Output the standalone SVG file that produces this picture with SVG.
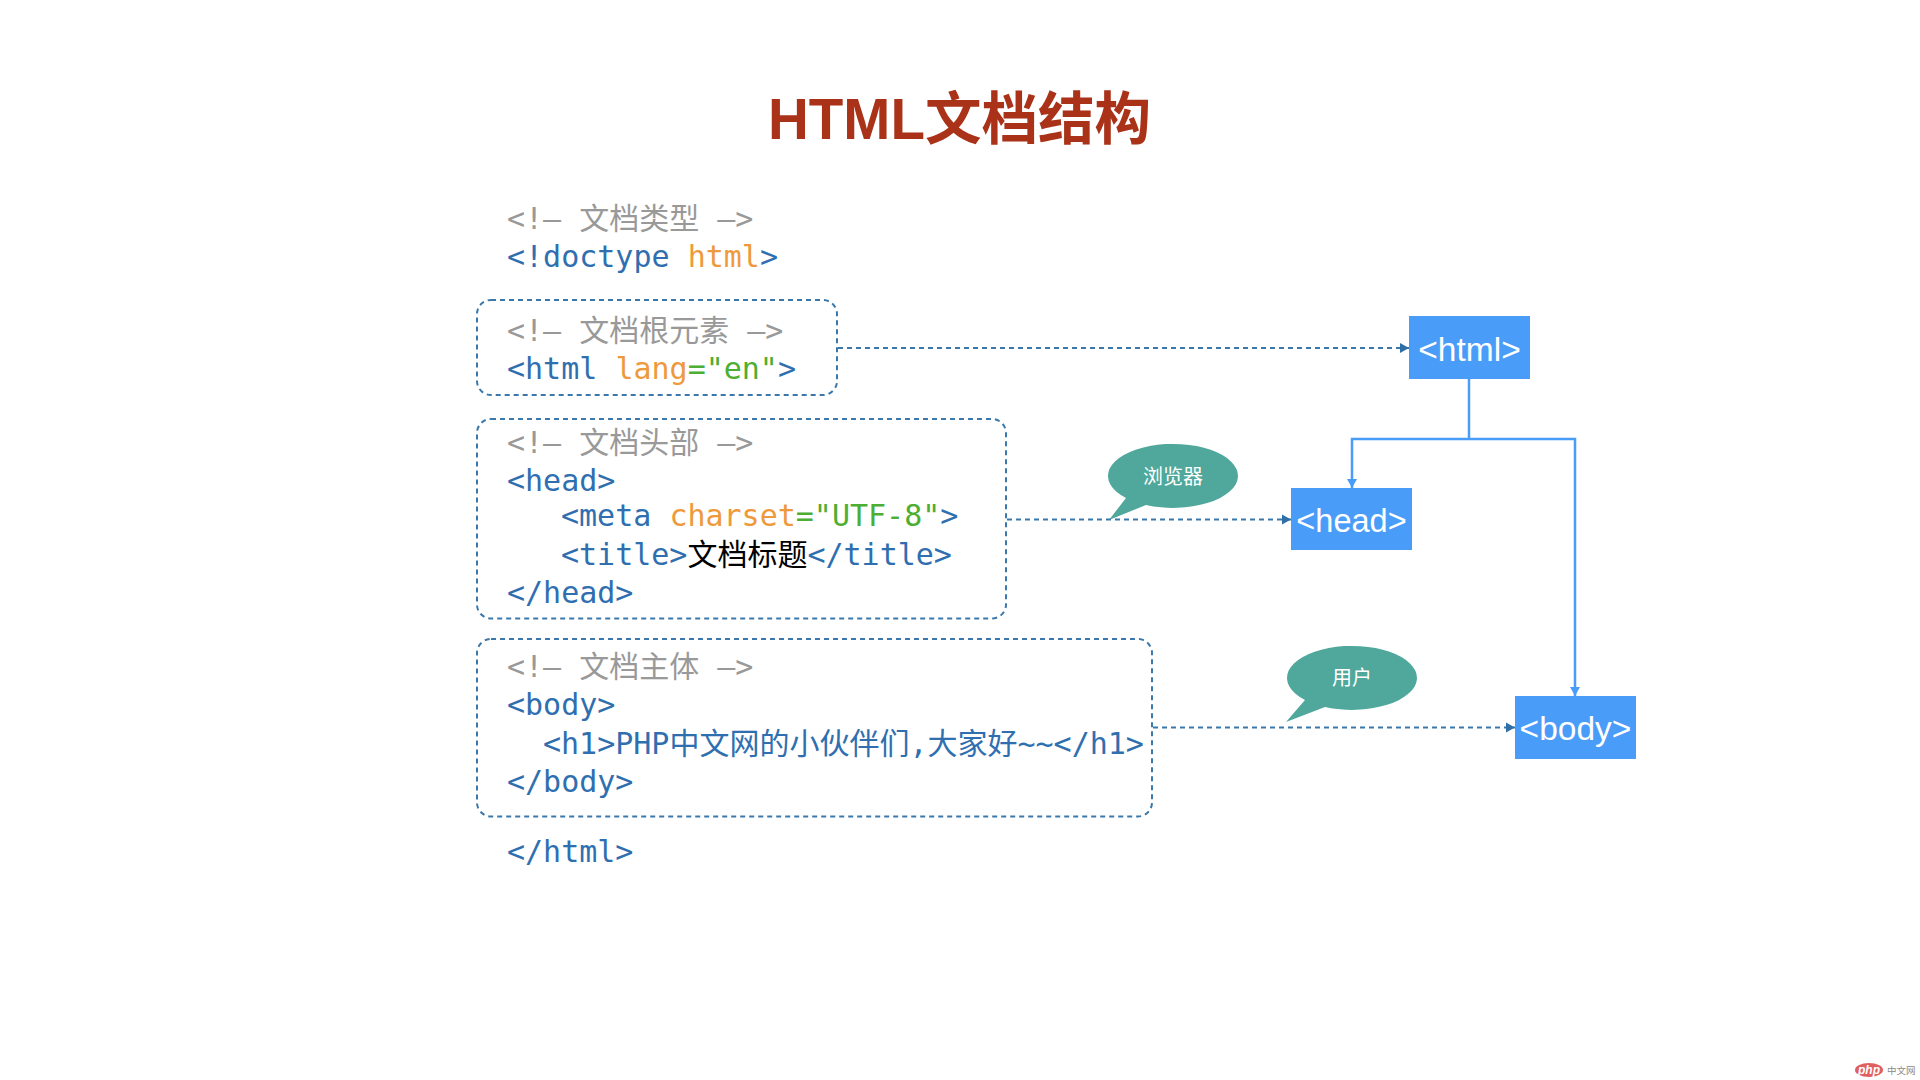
<svg xmlns="http://www.w3.org/2000/svg" width="1920" height="1080" viewBox="0 0 1920 1080">
  <style>
    .code { font-family: "DejaVu Sans Mono", "Noto Sans CJK SC", monospace; font-size: 30px; fill: #2f6fb0; white-space: pre; }
    .cmt { fill: #999999; }
    .attr { fill: #ee9a3c; }
    .val { fill: #4cae33; }
    .ink { fill: #000000; }
    .frame { fill: none; stroke: #3a78ab; stroke-width: 2; stroke-dasharray: 5 4; }
    .dot { fill: none; stroke: #3a78ab; stroke-width: 2.2; stroke-dasharray: 5 4; }
    .solid { fill: none; stroke: #4a9cf9; stroke-width: 2.5; }
    .tag { fill: #4a9cf9; }
    .tagtext { font-family: "Liberation Sans", Arial, sans-serif; font-size: 33.5px; fill: #ffffff; text-anchor: middle; }
    .bubble { fill: #4fa89b; }
    .bubbletext { font-family: "Noto Sans CJK SC", sans-serif; font-size: 20px; fill: #ffffff; text-anchor: middle; }
  </style>
  <defs>
    <marker id="arrowDot" markerUnits="userSpaceOnUse" markerWidth="10" markerHeight="12" refX="9" refY="6" orient="auto">
      <path d="M0 1 L9 6 L0 11 Z" fill="#2f6fa8"/>
    </marker>
    <marker id="arrowSolid" markerUnits="userSpaceOnUse" markerWidth="10" markerHeight="12" refX="9" refY="5" orient="auto">
      <path d="M0 0 L9 5 L0 10 Z" fill="#4a9cf9"/>
    </marker>
  </defs>
  <rect width="1920" height="1080" fill="#ffffff"/>

  <g id="title">
    <text x="768" y="139" font-family="'Liberation Sans','Noto Sans CJK SC',sans-serif" font-size="56.500" font-weight="700" fill="#a93218">HTML文档结构</text>
  </g>

  <g id="doctype">
    <text class="code cmt" x="507" y="229">&lt;!– 文档类型 –&gt;</text>
    <text class="code" x="507" y="267">&lt;!doctype <tspan class="attr">html</tspan>&gt;</text>
  </g>

  <g id="root-block">
    <rect class="frame" x="477" y="300" width="360" height="95" rx="14"/>
    <text class="code cmt" x="507" y="341">&lt;!– 文档根元素 –&gt;</text>
    <text class="code" x="507" y="379">&lt;html <tspan class="attr">lang</tspan><tspan class="val">="en"</tspan>&gt;</text>
  </g>

  <g id="head-block">
    <rect class="frame" x="477" y="419" width="529" height="199.500" rx="14"/>
    <text class="code cmt" x="507" y="453">&lt;!– 文档头部 –&gt;</text>
    <text class="code" x="507" y="491">&lt;head&gt;</text>
    <text class="code" x="561" y="526">&lt;meta <tspan class="attr">charset</tspan><tspan class="val">="UTF-8"</tspan>&gt;</text>
    <text class="code" x="561" y="565">&lt;title&gt;<tspan class="ink">文档标题</tspan>&lt;/title&gt;</text>
    <text class="code" x="507" y="603">&lt;/head&gt;</text>
  </g>

  <g id="body-block">
    <rect class="frame" x="477" y="639" width="675" height="177.500" rx="14"/>
    <text class="code cmt" x="507" y="677">&lt;!– 文档主体 –&gt;</text>
    <text class="code" x="507" y="715">&lt;body&gt;</text>
    <text class="code" x="543" y="754">&lt;h1&gt;PHP中文网的小伙伴们,大家好~~&lt;/h1&gt;</text>
    <text class="code" x="507" y="792">&lt;/body&gt;</text>
  </g>

  <g id="html-close">
    <text class="code" x="507" y="862">&lt;/html&gt;</text>
  </g>

  <g id="bubble-browser">
    <path class="bubble" d="M1109 520 L1126 498 A65 32 0 1 1 1146 505 Z"/>
    <text class="bubbletext" x="1173" y="484">浏览器</text>
  </g>

  <g id="bubble-user">
    <path class="bubble" d="M1286 722 L1305 700 A65 32 0 1 1 1325 707 Z"/>
    <text class="bubbletext" x="1352" y="685">用户</text>
  </g>

  <g id="connectors">
    <path class="dot" d="M838 348 H1409" marker-end="url(#arrowDot)"/>
    <path class="dot" d="M1007 519.500 H1291" marker-end="url(#arrowDot)"/>
    <path class="dot" d="M1153 727.500 H1515" marker-end="url(#arrowDot)"/>
    <path class="solid" d="M1469 379 V439"/>
    <path class="solid" d="M1469 439 H1352 V488" marker-end="url(#arrowSolid)"/>
    <path class="solid" d="M1469 439 H1575 V696" marker-end="url(#arrowSolid)"/>
  </g>

  <g id="tag-html">
    <rect class="tag" x="1409" y="316" width="121" height="63"/>
    <text class="tagtext" x="1469.500" y="361">&lt;html&gt;</text>
  </g>
  <g id="tag-head">
    <rect class="tag" x="1291" y="488" width="121" height="62"/>
    <text class="tagtext" style="font-size:32.500px" x="1351.500" y="532">&lt;head&gt;</text>
  </g>
  <g id="tag-body">
    <rect class="tag" x="1515" y="696" width="121" height="63"/>
    <text class="tagtext" x="1575.500" y="740">&lt;body&gt;</text>
  </g>

  <g id="badge">
    <ellipse cx="1869" cy="1070" rx="14" ry="7" fill="#e0605f"/>
    <text x="1869" y="1074" font-family="'Liberation Sans',sans-serif" font-size="12" font-style="italic" font-weight="700" fill="#ffffff" text-anchor="middle">php</text>
    <text x="1887" y="1074" font-family="'Noto Sans CJK SC',sans-serif" font-size="9.500" fill="#8a8a8a">中文网</text>
  </g>
</svg>
